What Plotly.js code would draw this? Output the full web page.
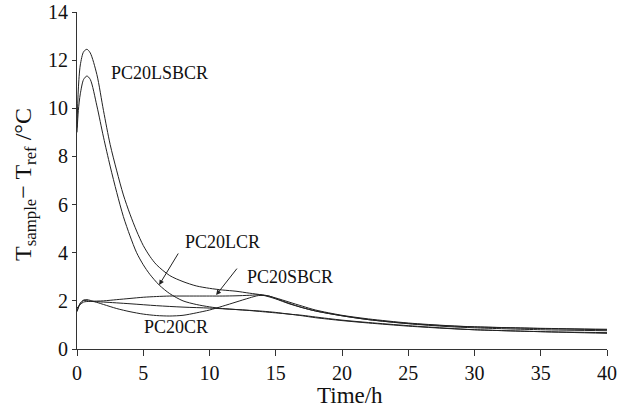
<!DOCTYPE html>
<html>
<head>
<meta charset="utf-8">
<script src="https://cdn.plot.ly/plotly-3.0.1.min.js"></script>
<style>html,body{margin:0;padding:0;background:#fff;}#chart{width:625px;height:410px;}</style>
</head>
<body>
<div id="chart"></div>
<script>
// Time (h) and temperature difference (°C)
const tLSBCR = [0, 0.1, 0.25, 0.5, 0.75, 1.0, 1.5, 2.0, 2.5, 3.0, 3.5, 4.0, 4.5, 5.0, 5.5, 6.0, 7.0, 8.0, 9.0, 10, 11, 12, 13, 14, 15, 16, 17, 18, 20, 22, 25, 28, 30, 35, 40];
const vLSBCR = [9.2, 10.8, 11.8, 12.35, 12.45, 12.3, 11.4, 9.9, 8.5, 7.4, 6.4, 5.6, 4.9, 4.3, 3.85, 3.5, 3.05, 2.8, 2.62, 2.52, 2.45, 2.4, 2.32, 2.24, 2.08, 1.88, 1.72, 1.58, 1.38, 1.22, 1.06, 0.96, 0.92, 0.86, 0.82];

const tLCR = [0, 0.1, 0.25, 0.5, 0.75, 1.0, 1.5, 2.0, 2.5, 3.0, 3.5, 4.0, 4.5, 5.0, 5.5, 6.2, 7, 8, 9, 10, 11, 12, 13, 14, 15, 16, 17, 18, 20, 22, 25, 28, 30, 35, 40];
const vLCR = [9.0, 9.9, 10.6, 11.2, 11.34, 11.2, 10.1, 8.8, 7.6, 6.5, 5.5, 4.7, 4.0, 3.5, 3.1, 2.66, 2.3, 2.0, 1.85, 1.75, 1.68, 1.64, 1.6, 1.55, 1.5, 1.45, 1.38, 1.3, 1.18, 1.08, 0.95, 0.85, 0.8, 0.72, 0.68];

const tSBCR = [0, 0.25, 0.5, 1, 2, 3, 4, 5, 6, 7, 8, 9, 10, 11, 12, 13, 14, 15, 16, 17, 18, 20, 22, 25, 28, 30, 35, 40];
const vSBCR = [1.7, 1.85, 1.95, 1.98, 2.0, 2.05, 2.1, 2.15, 2.18, 2.2, 2.2, 2.2, 2.2, 2.2, 2.21, 2.23, 2.25, 2.12, 1.95, 1.78, 1.62, 1.4, 1.25, 1.08, 0.97, 0.92, 0.85, 0.8];

const tCR = [0, 0.25, 0.5, 0.75, 1, 2, 3, 4, 5, 6, 7, 8, 9, 10, 11, 12, 13, 13.7, 14.5, 15, 16, 17, 18, 20, 22, 25, 28, 30, 35, 40];
const vCR = [1.55, 1.9, 2.03, 2.05, 2.02, 1.85, 1.68, 1.55, 1.45, 1.39, 1.37, 1.4, 1.5, 1.62, 1.78, 1.95, 2.12, 2.22, 2.2, 2.1, 1.9, 1.72, 1.58, 1.38, 1.22, 1.05, 0.93, 0.88, 0.8, 0.76];

const tFifth = [0, 0.25, 0.5, 1, 2, 4, 6, 8, 10, 12, 14, 15, 16, 17, 18, 20, 22, 25, 28, 30, 35, 40];
const vFifth = [1.6, 1.9, 2.02, 1.98, 1.95, 1.88, 1.8, 1.74, 1.7, 1.64, 1.57, 1.52, 1.45, 1.4, 1.33, 1.2, 1.1, 0.97, 0.86, 0.8, 0.72, 0.65];

const xTicks = [0, 5, 10, 15, 20, 25, 30, 35, 40];
const yTicks = [0, 2, 4, 6, 8, 10, 12, 14];

const FONT = '"Liberation Serif", "Times New Roman", serif';
function tr(x, y, name) {
  return {x: x, y: y, name: name, type: 'scatter', mode: 'lines',
    line: {color: '#222', width: 1, shape: 'spline', smoothing: 0.8},
    showlegend: false, hoverinfo: 'skip'};
}
const data = [
  tr(tLSBCR, vLSBCR, 'PC20LSBCR'),
  tr(tLCR, vLCR, 'PC20LCR'),
  tr(tSBCR, vSBCR, 'PC20SBCR'),
  tr(tCR, vCR, 'PC20CR'),
  tr(tFifth, vFifth, 'unlabeled')
];

const axisCommon = {
  showgrid: false, zeroline: false, showline: true, linecolor: '#333', linewidth: 1,
  ticks: 'outside', tickcolor: '#333', tickwidth: 1,
  tickfont: {family: FONT, size: 20, color: '#111'}
};

const layout = {
  width: 625, height: 410,
  margin: {l: 77, r: 18, t: 12, b: 61},
  paper_bgcolor: '#fff', plot_bgcolor: '#fff',
  font: {family: FONT, color: '#111'},
  xaxis: Object.assign({}, axisCommon, {range: [0, 40], tickvals: xTicks, ticklen: 6}),
  yaxis: Object.assign({}, axisCommon, {range: [0, 14], tickvals: yTicks, ticklen: 4}),
  annotations: [
    {text: 'Time/h', xref: 'paper', yref: 'paper', x: 0.516, y: -0.139, xanchor: 'center', yanchor: 'middle',
     showarrow: false, font: {family: FONT, size: 23, color: '#111'}},
    {text: 'T<sub>sample</sub>− T<sub>ref</sub> /°C', xref: 'paper', yref: 'paper', x: -0.098, y: 0.487,
     xanchor: 'center', yanchor: 'middle', textangle: -90, showarrow: false,
     font: {family: FONT, size: 24, color: '#111'}},
    {text: 'PC20LSBCR', x: 6.26, y: 11.47, showarrow: false, font: {family: FONT, size: 18, color: '#111'}},
    {text: 'PC20LCR', x: 11.0, y: 4.46, showarrow: false, font: {family: FONT, size: 18, color: '#111'}},
    {text: 'PC20SBCR', x: 16.1, y: 3.0, showarrow: false, font: {family: FONT, size: 18, color: '#111'}},
    {text: 'PC20CR', x: 7.5, y: 0.93, showarrow: false, font: {family: FONT, size: 18, color: '#111'}},
    {text: '', x: 6.2, y: 2.66, showarrow: true, ax: 20, ay: -33, arrowhead: 2, arrowsize: 1, arrowwidth: 1, arrowcolor: '#222'},
    {text: '', x: 10.5, y: 2.24, showarrow: true, ax: 22, ay: -28, arrowhead: 2, arrowsize: 1, arrowwidth: 1, arrowcolor: '#222'}
  ]
};

Plotly.newPlot('chart', data, layout, {staticPlot: true, displayModeBar: false});
</script>
</body>
</html>
